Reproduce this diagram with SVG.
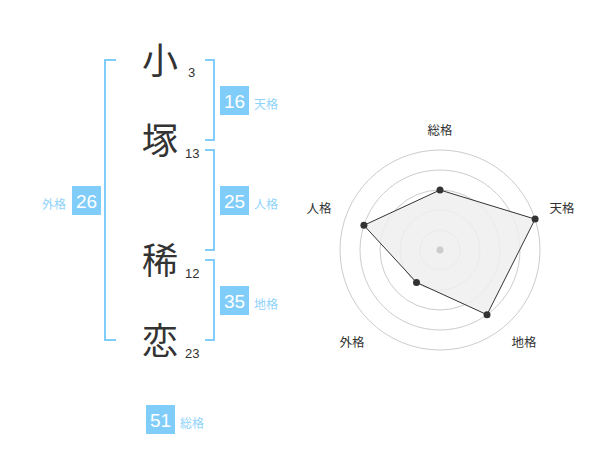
<svg xmlns="http://www.w3.org/2000/svg" width="600" height="470" viewBox="0 0 600 470">
<style>
.br{fill:none;stroke:#81cdf9;stroke-width:2}
.box{fill:#81cdf9}
.num{font-family:"Liberation Sans",Arial,sans-serif;font-size:19px;fill:#fff;text-anchor:middle}
.lbl{font-family:"Noto Sans CJK JP","Noto Sans CJK SC",sans-serif;font-size:12px;fill:#8fd3fb}
.ch{font-family:"Noto Sans CJK JP","Noto Sans CJK SC",sans-serif;font-size:36px;fill:#333;text-anchor:middle}
.st{font-family:"Liberation Sans",Arial,sans-serif;font-size:13px;fill:#333}
.ring{fill:none;stroke:#cccccc;stroke-width:1}
.rl{font-family:"Noto Sans CJK JP","Noto Sans CJK SC",sans-serif;font-size:12.5px;fill:#333;text-anchor:middle}
.pt{fill:#333}
</style>
<rect width="600" height="470" fill="#fff"/>
<g id="connectors">
<path class="br" d="M116,60 H105 V340 H116"/>
<path class="br" d="M205,60 H214 V140 H205"/>
<path class="br" d="M205,150 H214 V250 H205"/>
<path class="br" d="M205,260 H214 V340 H205"/>
</g>
<g id="char1"><text class="ch" x="160" y="74">小</text><text class="st" x="188" y="77">3</text></g>
<g id="char2"><text class="ch" x="160" y="154">塚</text><text class="st" x="185" y="158">13</text></g>
<g id="char3"><text class="ch" x="160" y="274">稀</text><text class="st" x="185" y="278">12</text></g>
<g id="char4"><text class="ch" x="160" y="354">恋</text><text class="st" x="185" y="358">23</text></g>
<g id="tenkaku"><rect class="box" x="220" y="86" width="29" height="29"/><text class="num" x="234.5" y="107.5">16</text><text class="lbl" x="254" y="108.5">天格</text></g>
<g id="jinkaku"><rect class="box" x="220" y="186" width="29" height="29"/><text class="num" x="234.5" y="207.5">25</text><text class="lbl" x="254" y="208.5">人格</text></g>
<g id="chikaku"><rect class="box" x="220" y="286" width="29" height="29"/><text class="num" x="234.5" y="307.5">35</text><text class="lbl" x="254" y="308.5">地格</text></g>
<g id="gaikaku"><rect class="box" x="72" y="186" width="29" height="29"/><text class="num" x="86.5" y="207.5">26</text><text class="lbl" x="66" y="208.5" text-anchor="end">外格</text></g>
<g id="soukaku"><rect class="box" x="146" y="405" width="29" height="29"/><text class="num" x="160.5" y="426.5">51</text><text class="lbl" x="180" y="428">総格</text></g>
<g id="radar">
<circle class="ring" cx="440" cy="250" r="20"/>
<circle class="ring" cx="440" cy="250" r="40"/>
<circle class="ring" cx="440" cy="250" r="60"/>
<circle class="ring" cx="440" cy="250" r="80"/>
<circle class="ring" cx="440" cy="250" r="100"/>
<polygon points="440,190 535.1,219.1 487,314.7 416.5,282.4 363.9,225.3" fill="#efefef" fill-opacity="0.85" stroke="#333" stroke-width="1"/>
<circle cx="440" cy="250" r="3.5" fill="#cccccc"/>
<circle class="pt" cx="440" cy="190" r="3.5"/>
<circle class="pt" cx="535.1" cy="219.1" r="3.5"/>
<circle class="pt" cx="487" cy="314.7" r="3.5"/>
<circle class="pt" cx="416.5" cy="282.4" r="3.5"/>
<circle class="pt" cx="363.9" cy="225.3" r="3.5"/>
<text class="rl" x="440" y="135">総格</text>
<text class="rl" x="562" y="213">天格</text>
<text class="rl" x="524" y="347">地格</text>
<text class="rl" x="352" y="347">外格</text>
<text class="rl" x="319" y="213">人格</text>
</g>
</svg>
